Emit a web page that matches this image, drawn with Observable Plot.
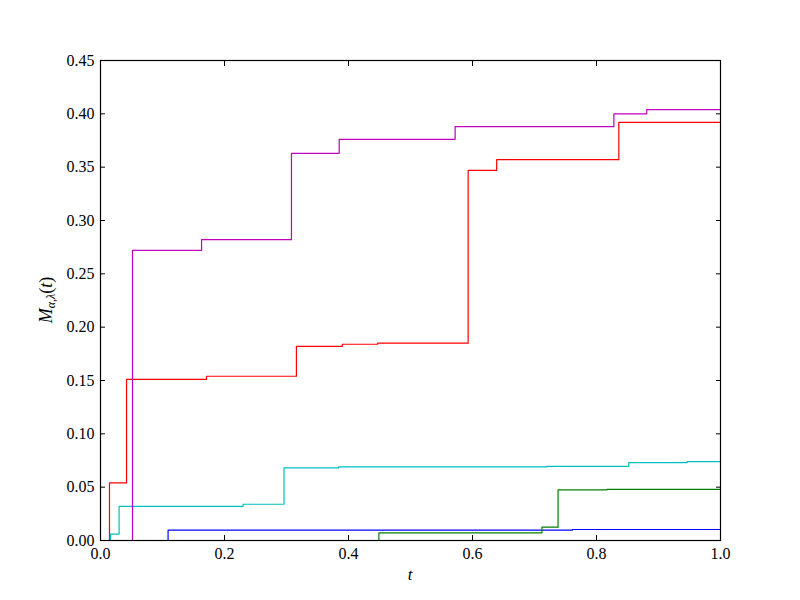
<!DOCTYPE html>
<html>
<head>
<meta charset="utf-8">
<script src="https://cdn.jsdelivr.net/npm/d3@7"></script>
<script src="https://cdn.jsdelivr.net/npm/@observablehq/plot@0.6"></script>
<style>
  html, body { margin: 0; padding: 0; background: #fff; }
  #chart { width: 800px; height: 600px; }
  svg, svg text { font-family: "Liberation Serif", "DejaVu Serif", serif !important; }
</style>
</head>
<body>
<div id="chart"></div>
<script>
// Series: step times t and values M(t)
const tBlue = [0, 0.109, 0.761, 1.0];
const vBlue = [0, 0.0097, 0.0103, 0.0103];

const tGreen = [0, 0.449, 0.712, 0.738, 0.817, 1.0];
const vGreen = [0, 0.0072, 0.0125, 0.0475, 0.048, 0.048];

const tRed = [0, 0.0145, 0.042, 0.171, 0.316, 0.390, 0.447, 0.593, 0.639, 0.836, 1.0];
const vRed = [0, 0.054, 0.151, 0.154, 0.182, 0.184, 0.185, 0.347, 0.357, 0.392, 0.392];

const tCyan = [0, 0.016, 0.030, 0.230, 0.296, 0.384, 0.72, 0.852, 0.946, 1.0];
const vCyan = [0, 0.006, 0.032, 0.034, 0.068, 0.069, 0.0695, 0.073, 0.074, 0.074];

const tMagenta = [0, 0.0516, 0.163, 0.308, 0.385, 0.572, 0.828, 0.881, 1.0];
const vMagenta = [0, 0.272, 0.282, 0.363, 0.376, 0.388, 0.400, 0.404, 0.404];

const seriesNames = ["b", "g", "r", "c", "m"];
const seriesColors = ["#0000ff", "#008000", "#ff0000", "#00bfbf", "#bf00bf"];
const xTicks = [0.0, 0.2, 0.4, 0.6, 0.8, 1.0];
const yTicks = [0.00, 0.05, 0.10, 0.15, 0.20, 0.25, 0.30, 0.35, 0.40, 0.45];

const seriesT = [tBlue, tGreen, tRed, tCyan, tMagenta];
const seriesV = [vBlue, vGreen, vRed, vCyan, vMagenta];
const rows = [];
seriesNames.forEach((s, i) => {
  seriesT[i].forEach((t, j) => rows.push({series: s, t, v: seriesV[i][j]}));
});

const font = 16;
const serif = "'Liberation Serif', 'DejaVu Serif', serif";
const chart = Plot.plot({
  width: 800,
  height: 600,
  marginLeft: 100,
  marginRight: 80,
  marginTop: 60,
  marginBottom: 60,
  style: {fontFamily: serif, fontSize: font + "px", color: "#000", background: "#fff"},
  x: {domain: [0, 1]},
  y: {domain: [0, 0.45]},
  color: {domain: seriesNames, range: seriesColors},
  marks: [
    ...seriesNames.map((s) => Plot.line(rows.filter(d => d.series === s), {
      x: "t", y: "v", stroke: "series", curve: "step-after", strokeWidth: 1.2
    })),
    Plot.frame({stroke: "#000", strokeWidth: 1.2}),
    Plot.axisX(xTicks, {anchor: "bottom", tickSize: -5, tickPadding: 12, tickFormat: d3.format(".1f"), label: null, fontSize: font}),
    Plot.axisX(xTicks, {anchor: "top", tickSize: -5, tickFormat: () => "", label: null}),
    Plot.axisY(yTicks, {anchor: "left", tickSize: -5, tickPadding: 11, tickFormat: d3.format(".2f"), label: null, fontSize: font}),
    Plot.axisY(yTicks, {anchor: "right", tickSize: -5, tickFormat: () => "", label: null})
  ]
});
document.getElementById("chart").appendChild(chart);

const svg = d3.select(chart);
svg.selectAll("text").attr("font-family", serif).style("font-family", serif);
// x-axis label
svg.append("text")
  .attr("x", 410).attr("y", 580)
  .attr("text-anchor", "middle")
  .attr("font-family", serif)
  .attr("font-size", 17)
  .attr("font-style", "italic")
  .text("t");
// y-axis label
const yl = svg.append("text")
  .attr("transform", "translate(52,300) rotate(-90)")
  .attr("text-anchor", "middle")
  .attr("font-family", serif)
  .attr("font-size", 18);
yl.append("tspan").attr("font-style", "italic").text("M");
yl.append("tspan").attr("font-size", 12).attr("dy", 3).attr("font-style", "italic").text("α,λ");
yl.append("tspan").attr("dy", -3).text("(");
yl.append("tspan").attr("font-style", "italic").text("t");
yl.append("tspan").text(")");
</script>
</body>
</html>
